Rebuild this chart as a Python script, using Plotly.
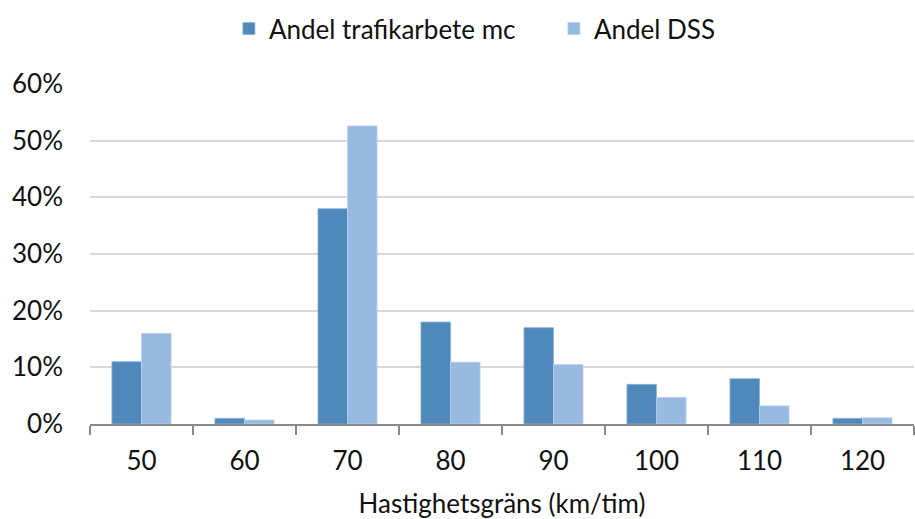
import plotly.graph_objects as go

categories = ["50", "60", "70", "80", "90", "100", "110", "120"]
andel_trafikarbete_mc = [0.11, 0.01, 0.38, 0.18, 0.17, 0.07, 0.08, 0.01]
andel_dss = [0.16, 0.007, 0.526, 0.109, 0.105, 0.047, 0.032, 0.011]
y_ticks = [0, 0.1, 0.2, 0.3, 0.4, 0.5, 0.6]
y_tick_labels = ["0%", "10%", "20%", "30%", "40%", "50%", "60%"]

font_family = "Lato, Open Sans, sans-serif"
fs = 26

fig = go.Figure()
fig.add_trace(go.Bar(x=categories, y=andel_trafikarbete_mc, name="Andel trafikarbete mc",
                     marker=dict(color="#4F88BB", line=dict(width=0.8, color="#8DB1D8"))))
fig.add_trace(go.Bar(x=categories, y=andel_dss, name="Andel DSS",
                     marker=dict(color="#98B9E0", line=dict(width=0.8, color="#B9D0EC"))))

fig.update_layout(
    width=915, height=519,
    margin=dict(l=90, r=1, t=84, b=95),
    paper_bgcolor="white", plot_bgcolor="white",
    barmode="group", bargap=0.426, bargroupgap=0,
    font=dict(family=font_family, size=fs, color="#111111"),
    legend=dict(orientation="h", x=0.563, xanchor="center", y=0.99, yanchor="top",
                yref="container", font=dict(size=fs), traceorder="normal",
                entrywidth=280, entrywidthmode="pixels"),
    xaxis=dict(type="category", showline=True, linecolor="#898989", linewidth=1.5,
               ticks="outside", tickson="boundaries", ticklen=9, tickcolor="#898989",
               tickwidth=1.5, showgrid=False, ticklabelstandoff=13,
               title=dict(text="Hastighetsgräns (km/tim)", standoff=24,
                          font=dict(size=fs))),
    yaxis=dict(range=[0, 0.6], tickvals=y_ticks, ticktext=y_tick_labels,
               showgrid=True, gridcolor="#D9D9D9", gridwidth=1.5, zeroline=False,
               showline=False, ticks="", ticklabelstandoff=26),
)

fig.write_html("out.html")
